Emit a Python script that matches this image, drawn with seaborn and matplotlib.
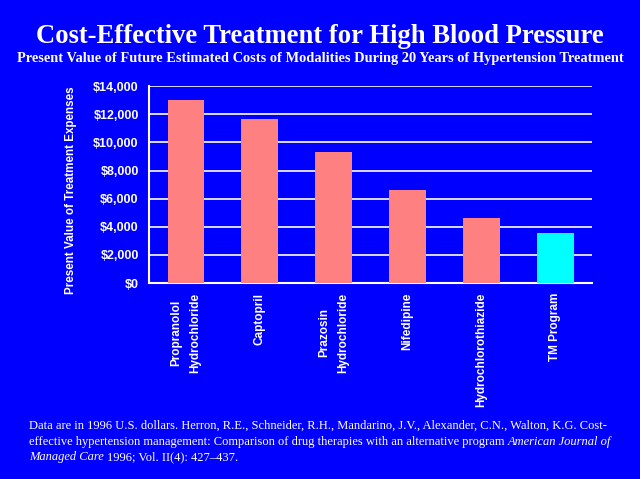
import matplotlib
matplotlib.use("Agg")
import matplotlib.pyplot as plt
import seaborn as sns
import pandas as pd
from matplotlib.ticker import FuncFormatter, FixedLocator

# chart values
treatments = ["Propranolol\nHydrochloride", "Captopril", "Prazosin\nHydrochloride",
              "Nifedipine", "Hydrochlorothiazide", "TM Program"]
costs = [13050, 11650, 9320, 6630, 4640, 3550]
bar_colors = ["#FF8080", "#FF8080", "#FF8080", "#FF8080", "#FF8080", "#00FFFF"]

df = pd.DataFrame({"treatment": treatments, "cost": costs})

blue = "#0000FF"
sns.set_theme(style="white")
plt.rcParams["font.family"] = ["Liberation Sans", "DejaVu Sans"]

fig = plt.figure(figsize=(6.4, 4.79), dpi=100, facecolor=blue)
ax = fig.add_axes([0.233, 0.409, 0.692, 0.411], facecolor=blue)

sns.barplot(data=df, x="treatment", y="cost", hue="treatment", palette=bar_colors,
            legend=False, width=0.5, ax=ax, zorder=3, saturation=1, linewidth=0)

ax.set_ylim(0, 14000)
ax.set_xlim(-0.5, len(treatments) - 0.5)
ax.set_yticks(range(0, 14001, 2000))
ax.yaxis.set_major_formatter(FuncFormatter(lambda v, p: "${:,.0f}".format(v)))
ax.grid(axis="y", color="white", linewidth=1.2, zorder=0)
ax.set_axisbelow(True)

for s in ["top", "right"]:
    ax.spines[s].set_visible(False)
for s in ["left", "bottom"]:
    ax.spines[s].set_color("white")
    ax.spines[s].set_linewidth(1.5)

ax.tick_params(axis="y", colors="white", direction="out", length=4, width=1.5, labelsize=9)
for lbl in ax.get_yticklabels():
    lbl.set_fontweight("bold")

# names at bar centres, small ticks between categories
ax.set_xticks(range(len(treatments)))
ax.set_xticklabels(treatments, rotation=90, color="white", fontsize=8.5,
                   fontweight="bold", va="top", ha="center", linespacing=1.8)
ax.tick_params(axis="x", length=0, pad=7)
ax.xaxis.set_minor_locator(FixedLocator([i - 0.5 for i in range(len(treatments) + 1)]))
ax.tick_params(axis="x", which="minor", colors="white", direction="out", length=4, width=1.5)

ax.set_xlabel("")
ax.set_ylabel("Present Value of Treatment Expenses", color="white", fontsize=8.4,
              fontweight="bold")
ax.yaxis.set_label_coords(-0.163, 0.472)

serif = ["Liberation Serif", "DejaVu Serif"]
fig.text(0.5, 1 - 43 / 479, "Cost-Effective Treatment for High Blood Pressure", ha="center",
         va="baseline", color="white", fontsize=19.2, fontweight="bold", family=serif)
fig.text(0.5, 1 - 62 / 479, "Present Value of Future Estimated Costs of Modalities During 20 Years of Hypertension Treatment",
         ha="center", va="baseline", color="white", fontsize=10.35, fontweight="bold", family=serif)

# footnote with italic journal name
fs = 9.0
x0 = 29 / 640
fig.text(x0, 1 - 426 / 479,
         "Data are in 1996 U.S. dollars. Herron, R.E., Schneider, R.H., Mandarino, J.V., Alexander, C.N., Walton, K.G. Cost-",
         color="white", fontsize=fs, family=serif, va="center")
t2 = fig.text(x0, 1 - 442 / 479,
              "effective hypertension management: Comparison of drug therapies with an alternative program ",
              color="white", fontsize=fs, family=serif, va="center")
fig.canvas.draw()
r = fig.canvas.get_renderer()
bb = t2.get_window_extent(r)
fig.text(bb.x1 / fig.bbox.width, 1 - 442 / 479, "American Journal of",
         color="white", fontsize=fs, family=serif, style="italic", va="center")
t4 = fig.text(x0, 1 - 457 / 479, "Managed Care ", color="white", fontsize=fs,
              family=serif, style="italic", va="center")
fig.canvas.draw()
bb = t4.get_window_extent(r)
fig.text(bb.x1 / fig.bbox.width, 1 - 457 / 479, "1996; Vol. II(4): 427\u2013437.",
         color="white", fontsize=fs, family=serif, va="center")

fig.savefig("out.png", dpi=100, facecolor=blue)
